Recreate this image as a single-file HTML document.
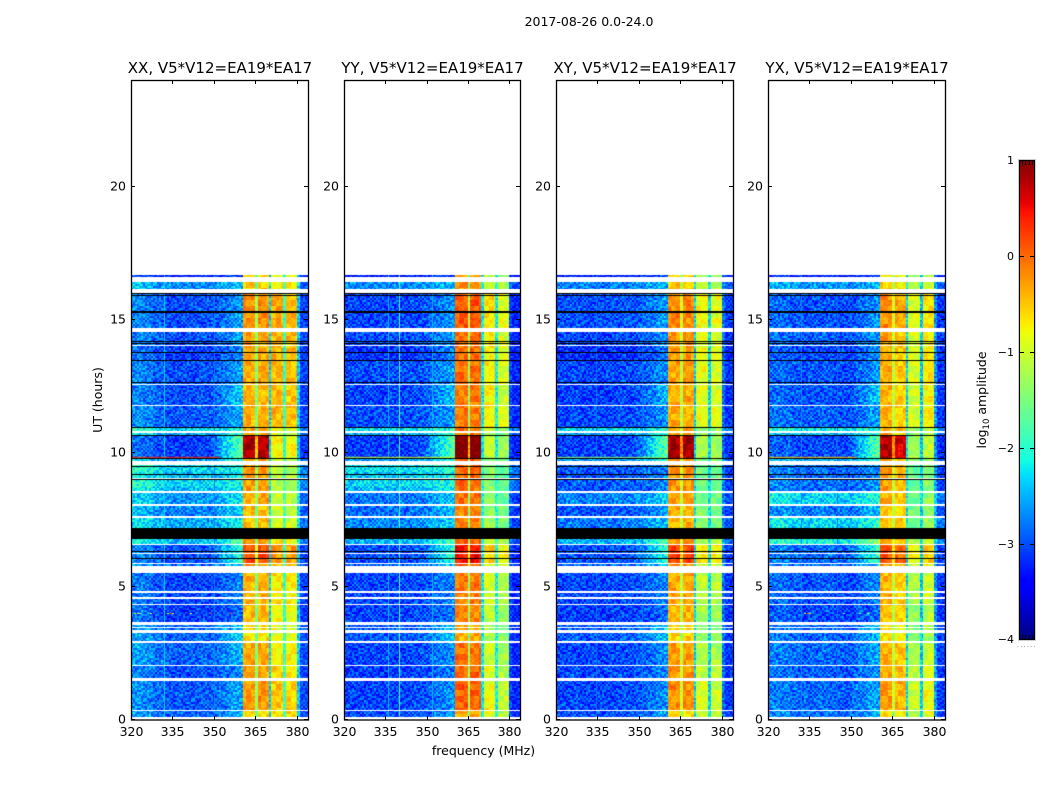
<!DOCTYPE html>
<html lang="en">
<head>
<meta charset="utf-8">
<title>2017-08-26 0.0-24.0 amplitude waterfall</title>
<style>
html,body{margin:0;padding:0;background:#fff;}
#figure{position:relative;width:1050px;height:800px;overflow:hidden;background:#fff;}
#figure canvas{position:absolute;display:block;}
#overlay{position:absolute;left:0;top:0;}
text{font-family:"DejaVu Sans","Liberation Sans",sans-serif;fill:#000;}
</style>
</head>
<body>
<div id="figure">
<svg id="overlay" width="1050" height="800" viewBox="0 0 1050 800">
  <text x="589" y="26" font-size="12.5" text-anchor="middle">2017-08-26 0.0-24.0</text>
  <text x="483.5" y="755" font-size="12.5" text-anchor="middle">frequency (MHz)</text>
  <text x="0" y="0" font-size="12.5" text-anchor="middle" transform="translate(102 400) rotate(-90)">UT (hours)</text>
  <text x="0" y="0" font-size="12.5" text-anchor="middle" transform="translate(986 400) rotate(-90)">log<tspan font-size="8.5" dy="3">10</tspan><tspan dy="-3"> amplitude</tspan></text>
  <g fill="#aaa">
    <rect x="1017.5" y="646" width="1" height="1"/><rect x="1021" y="646" width="1" height="1"/><rect x="1024" y="646" width="1" height="1"/>
    <rect x="1027.5" y="646" width="1" height="1"/><rect x="1030.5" y="646" width="1" height="1"/><rect x="1034" y="646" width="1" height="1"/>
  </g>
</svg>
</div>
<script>
// ---- panels and axis labels ----
const panelTitles = ['XX, V5*V12=EA19*EA17', 'YY, V5*V12=EA19*EA17', 'XY, V5*V12=EA19*EA17', 'YX, V5*V12=EA19*EA17'];
const freqTicks = [320, 335, 350, 365, 380];
const hourTicks = [0, 5, 10, 15, 20];
const colorbarTicks = [1, 0, -1, -2, -3, -4];
const colorbarMinorStops = [0.2, 0.4, 0.6, 0.8];

// ---- heatmap: time bands (UT hours), log10 amplitude ----
const bandStarts = [0.13,0.39,1.5,2.05,2.95,3.6,4.34,5.76,5.87,6.6,7.2,7.6,8.05,8.55,8.75,9.07,9.3,9.6,9.79,10.66,10.82,10.98,11.78,12.6,13.48,14.04,14.62,16.09,16.5];
const dataEndHour = 16.68;
const backgroundXX = [-2.9,-2.95,-3.0,-2.9,-2.9,-3.1,-3.05,-2.9,-3.0,-2.45,-2.55,-2.75,-2.65,-2.45,-2.3,-2.45,-2.3,-2.6,-3.1,-2.55,-2.3,-2.95,-3.0,-3.0,-3.1,-3.0,-3.0,-2.7,-3.3];
const backgroundYY = [-3.0,-3.05,-3.1,-3.05,-2.95,-3.05,-3.05,-2.9,-3.0,-2.5,-2.7,-2.85,-2.8,-2.45,-2.3,-2.4,-2.25,-2.6,-3.1,-2.5,-2.25,-3.0,-3.05,-3.0,-3.15,-3.0,-3.05,-2.7,-3.3];
const backgroundXY = [-3.0,-3.05,-3.05,-3.05,-2.95,-3.1,-3.05,-2.9,-3.0,-2.5,-2.8,-3.0,-2.75,-3.0,-2.95,-3.0,-2.95,-2.6,-3.1,-2.6,-2.3,-3.05,-3.1,-3.05,-3.2,-3.05,-3.0,-2.75,-3.3];
const backgroundYX = [-2.9,-2.95,-3.0,-2.95,-2.95,-3.1,-3.05,-2.9,-2.95,-2.15,-2.4,-2.85,-2.4,-2.95,-2.9,-2.95,-2.9,-2.6,-3.1,-2.55,-2.25,-3.0,-3.05,-3.05,-3.1,-3.0,-3.05,-2.7,-3.3];
const boostInnerBlocks = [-0.3,0.1,0.05,0,-0.3,-0.1,-0.05,0.1,0.5,0.1,-0.1,-0.1,0,0.05,0.05,0.1,0.1,0.05,1.15,0,0,-0.05,-0.05,0,0,0.05,0.15,-0.2,-0.3];
const boostOuterBlocks = [-0.1,0,-0.1,-0.2,-0.4,-0.3,-0.15,0,0.25,-0.2,-0.45,-0.5,-0.55,-0.65,-0.65,-0.6,-0.6,-0.5,-0.25,-0.4,-0.3,0.1,0.05,0.1,0.1,0.1,0.15,-0.2,-0.3];
const wingStrength = [0.2,0.2,0.15,0.2,0.3,0.1,0.15,0.3,0.6,0.4,0.2,0.2,0.2,0.1,0.1,0.1,0.1,0.3,0.85,0.3,0.1,0.2,0.35,0.2,0.2,0.2,0.2,0.1,0.1];

// ---- heatmap: frequency structure (MHz) ----
const segmentEdges = [320,360.4,365,366,370,370.8,375,375.9,380,381,384];
const segmentsXX = [null,-0.35,-1.4,-0.35,-2.3,-0.5,-1.9,-0.55,-2.4,-3.05];
const segmentsYY = [null,-0.05,-1.3,-0.05,-2.2,-0.8,-2.1,-1.05,-3.0,-3.2];
const segmentsXY = [null,-0.3,-1.1,-0.3,-2.3,-0.95,-2.3,-1.0,-2.8,-3.1];
const segmentsYX = [null,-0.35,-1.1,-0.5,-2.3,-1.05,-2.4,-0.8,-2.6,-3.1];
const shapeFreqStart = 320;
const shapeFreqStep = 4;
const shapeXX = [0.3,0.25,0.1,0,0,0,0.05,0,0.05,0.1];
const shapeYY = [0,0,0,0,0,0,0.05,0.05,0.1,0.1];
const shapeXY = [0,0.05,0,0,0,0.05,0.05,0.05,0.05,0.1];
const shapeYX = [0.2,0.2,0.1,0.05,0.1,0.1,0.05,0,0.05,0.1];
const wingFreqs = [349,351,353,355,357,359];
const wingGains = [0.25,0.5,0.8,1.05,1.3,1.55];
const rfiFreqsXX = [331.9,350];
const rfiLevelsXX = [-2.35,-2.75];
const rfiFreqsYY = [336,340,352];
const rfiLevelsYY = [-2.5,-1.8,-2.5];
const rfiFreqsXY = [334.5,351];
const rfiLevelsXY = [-2.8,-2.8];
const rfiFreqsYX = [331.9,345];
const rfiLevelsYX = [-2.7,-2.85];

// ---- heatmap: fine channel-to-channel grain (estimated, digit 0-9 around the band level) ----
const grainTile = [
 '372905618243960715382946','815360294871502369148075','260748153906427581039264','594132870615938204765318',
 '038675241983160749526807','746209518364725093184652','129583406752091837465320','683014972540618352907146',
 '451796023189374605281793','907342865016259481736025','236851790423806175942568','574160328957143692058314',
 '892635147068521940367281','140978256314796028513697','365204819673058412679430','718493062587234169805126'
];

// ---- flagged rows ----
const gapStarts = [0,0.32,1.445,2.03,2.88,3.27,3.44,3.55,4.32,4.52,4.77,5.53,5.84,6.22,6.55,7.56,8.02,8.53,9.05,9.58,10.78,11.76,12.55,14.02,14.55,16.03,16.42];
const gapEnds = [0.13,0.39,1.557,2.07,2.98,3.37,3.5,3.66,4.36,4.63,4.83,5.76,5.87,6.26,6.6,7.64,8.11,8.57,9.09,9.71,10.82,11.8,12.6,14.06,14.7,16.15,16.6];
const flagStarts = [15.96,15.91,15.28,14.16,14.1,13.76,13.46,12.62,10.96,10.64,9.77,9.5,9.2,8.99,6.30,6.03,6.80];
const flagEnds = [16.0,15.95,15.32,14.2,14.14,13.8,13.5,12.69,11.0,10.68,9.81,9.54,9.24,9.03,6.34,6.07,7.20];

// ---- hot rows: hour, panel index, start MHz, end MHz, level ----
const hotHours = [9.87,9.87,9.87,9.87];
const hotPanels = [0,1,2,3];
const hotStarts = [320,320,320,320];
const hotEnds = [352,360,360,352];
const hotLevels = [0.3,-1.0,-1.4,-0.5];
const spikeHour = 4.02;
const spikeFreqsXX = [321,322,323,327,333,334,335,341.3,348.6,355.8];
const spikeLevelsXX = [-0.9,-1.1,-1.2,-0.8,-1.2,0.2,-1.0,-0.8,0.2,0.1];
const spikeFreqsYX = [333,334,335,347,353,355.8];
const spikeLevelsYX = [-1.0,0,-1.1,-1.6,-1.4,-0.8];

// ---- jet colormap anchors ----
const jetRedStops = [0,0.35,0.66,0.89,1];
const jetRedValues = [0,0,1,1,0.5];
const jetGreenStops = [0,0.125,0.375,0.64,0.91,1];
const jetGreenValues = [0,0,1,1,0,0];
const jetBlueStops = [0,0.11,0.34,0.65,1];
const jetBlueValues = [0.5,1,1,0,0];

const colorMin = -4, colorMax = 1;
const panelLefts = [131, 344, 556, 768];
const panelWidths = [177, 176, 177, 177];
const plotTop = 80, plotBottom = 720;
const freqMin = 320, freqMax = 384;
const hourMin = 0, hourMax = 24;

const backgrounds = [backgroundXX, backgroundYY, backgroundXY, backgroundYX];
const segments = [segmentsXX, segmentsYY, segmentsXY, segmentsYX];
const shapes = [shapeXX, shapeYY, shapeXY, shapeYX];
const rfiFreqs = [rfiFreqsXX, rfiFreqsYY, rfiFreqsXY, rfiFreqsYX];
const rfiLevels = [rfiLevelsXX, rfiLevelsYY, rfiLevelsXY, rfiLevelsYX];

function xScale(freq, width){ return (freq - freqMin) / (freqMax - freqMin) * width; }
function yScale(hour){ return plotBottom - plotTop - (hour - hourMin) / (hourMax - hourMin) * (plotBottom - plotTop); }
function stepInterp(stops, values, t){
  for (let i = 1; i < stops.length; i++) {
    if (t <= stops[i]) {
      return values[i-1] + (values[i]-values[i-1]) * (t-stops[i-1]) / (stops[i]-stops[i-1]);
    }
  }
  return values[values.length-1];
}
const lut = [];
for (let i = 0; i < 256; i++) {
  const t = i / 255;
  lut.push('rgb(' + Math.round(255*stepInterp(jetRedStops, jetRedValues, t)) + ',' +
    Math.round(255*stepInterp(jetGreenStops, jetGreenValues, t)) + ',' +
    Math.round(255*stepInterp(jetBlueStops, jetBlueValues, t)) + ')');
}
function colorOf(v){
  const t = Math.max(0, Math.min(1, (v - colorMin) / (colorMax - colorMin)));
  return lut[Math.round(t * 255)];
}
function lookup(edges, value){
  let idx = -1;
  for (let i = 0; i < edges.length; i++) { if (value >= edges[i]) idx = i; else break; }
  return idx;
}
function grainAt(panel, col, row, cellW, cellH){
  const r = Math.floor(row / cellH), c = Math.floor(col / cellW);
  const line = grainTile[(r + panel * 3) % grainTile.length];
  const shift = Math.floor(r / grainTile.length) * 7 + panel * 5;
  return (line.charCodeAt((c + shift) % line.length) - 48 - 4.5) / 4.5;
}
function cellValue(panel, hour, freq, col, row){
  const b = lookup(bandStarts, hour);
  if (b < 0) return null;
  const seg = lookup(segmentEdges, freq);
  const bg = backgrounds[panel][b];
  const grain = grainAt(panel, col, row, 2, 2);
  const blotch = grainAt(panel, col, row, 5, 6);
  if (seg <= 0) {
    const si = Math.min(shapes[panel].length - 1, Math.floor((freq - shapeFreqStart) / shapeFreqStep));
    let v = bg + shapes[panel][si] * (1 + (bg + 3) * 0.3);
    const w = lookup(wingFreqs, freq);
    if (w >= 0) v += wingGains[w] * wingStrength[b];
    return v + grain * 0.38 + blotch * 0.1;
  }
  const base = segments[panel][seg];
  if (seg === 1 || seg === 3) return base + boostInnerBlocks[b] + grain * 0.1 + blotch * 0.2;
  if (seg === 5 || seg === 7) return base + boostOuterBlocks[b] + grain * 0.1 + blotch * 0.2;
  if (seg === 2) return base + boostInnerBlocks[b] * 0.8 + grain * 0.25;
  if (seg === 4 || seg === 6) return base + (bg + 3) * 0.3 + grain * 0.3;
  return base + (bg + 3) * 0.5 + grain * 0.3;
}

const figure = document.getElementById('figure');
const overlay = document.getElementById('overlay');
const SVGNS = 'http://www.w3.org/2000/svg';
function svgEl(tag, attrs){
  const el = document.createElementNS(SVGNS, tag);
  for (const k in attrs) el.setAttribute(k, attrs[k]);
  return el;
}

panelTitles.forEach(function(title, p){
  const left = panelLefts[p];
  const panelWidth = panelWidths[p];
  const canvas = document.createElement('canvas');
  
  
  canvas.width = panelWidth;
  canvas.height = plotBottom - plotTop;
  canvas.style.left = left + 'px';
  canvas.style.top = plotTop + 'px';
  figure.insertBefore(canvas, overlay);
  const ctx = canvas.getContext('2d');
  ctx.fillStyle = '#fff';
  ctx.fillRect(0, 0, canvas.width, canvas.height);

  const pxHour = (hourMax - hourMin) / (plotBottom - plotTop);
  const pxFreq = (freqMax - freqMin) / panelWidth;
  const rows = Math.ceil((dataEndHour - hourMin) / pxHour);
  for (let row = 0; row < rows; row++) {
    const hour = hourMin + (row + 0.5) * pxHour;
    const y = yScale(hour + pxHour / 2);
    for (let col = 0; col < panelWidth; col++) {
      const freq = freqMin + (col + 0.5) * pxFreq;
      const v = cellValue(p, hour, freq, col, row);
      if (v === null) continue;
      ctx.fillStyle = colorOf(v);
      ctx.fillRect(col, y, 1, 1);
    }
  }
  // narrow interference channels
  rfiFreqs[p].forEach(function(f, i){
    ctx.fillStyle = colorOf(rfiLevels[p][i]);
    ctx.fillRect(Math.round(xScale(f, panelWidth)), yScale(dataEndHour), 1, yScale(0.13) - yScale(dataEndHour));
  });
  // hot rows
  hotHours.forEach(function(h, i){
    if (hotPanels[i] !== p) return;
    ctx.fillStyle = colorOf(hotLevels[i]);
    ctx.fillRect(xScale(hotStarts[i], panelWidth), yScale(h), xScale(hotEnds[i], panelWidth) - xScale(hotStarts[i], panelWidth), 1);
  });
  const spikeF = p === 0 ? spikeFreqsXX : (p === 3 ? spikeFreqsYX : []);
  const spikeL = p === 0 ? spikeLevelsXX : spikeLevelsYX;
  spikeF.forEach(function(f, i){
    ctx.fillStyle = colorOf(spikeL[i]);
    ctx.fillRect(Math.round(xScale(f, panelWidth)), Math.round(yScale(spikeHour)), 2, 1);
  });
  // flagged rows: white = no data, black = zero amplitude
  ctx.fillStyle = '#fff';
  gapStarts.forEach(function(s, i){
    const y0 = Math.round(yScale(gapEnds[i])), y1 = Math.round(yScale(s));
    ctx.fillRect(0, y0, panelWidth, Math.max(1, y1 - y0));
  });
  ctx.fillStyle = '#000';
  flagStarts.forEach(function(s, i){
    const y0 = Math.round(yScale(flagEnds[i])), y1 = Math.round(yScale(s));
    ctx.fillRect(0, y0, panelWidth, Math.max(1, y1 - y0));
  });

  // axes
  const group = svgEl('g', {});
  
  
  overlay.appendChild(group);
  const frame = svgEl('rect', {x: left + 0.5, y: plotTop + 0.5, width: panelWidth, height: plotBottom - plotTop - 0.5, fill: 'none', stroke: '#000', 'stroke-width': 1.3});
  
  
  group.appendChild(frame);
  const titleEl = svgEl('text', {x: left + panelWidth / 2 + 0.5, y: 73, 'font-size': 15, 'text-anchor': 'middle'});
  
  
  titleEl.textContent = title;
  group.appendChild(titleEl);

  freqTicks.forEach(function(f){
    const x = Math.round(left + xScale(f, panelWidth)) + 0.5;
    const tickBottom = svgEl('line', {x1: x, x2: x, y1: plotBottom, y2: plotBottom - 4, stroke: '#000'});
    
    
    group.appendChild(tickBottom);
    const tickTop = svgEl('line', {x1: x, x2: x, y1: plotTop, y2: plotTop + 4, stroke: '#000'});
    
    
    group.appendChild(tickTop);
    const label = svgEl('text', {x: x, y: plotBottom + 16, 'font-size': 12.5, 'text-anchor': 'middle'});
    
    
    label.textContent = String(f);
    group.appendChild(label);
  });
  hourTicks.forEach(function(h){
    const y = Math.round(plotTop + yScale(h)) - 0.5;
    const tickLeft = svgEl('line', {x1: left, x2: left + 4, y1: y, y2: y, stroke: '#000'});
    
    
    group.appendChild(tickLeft);
    const tickRight = svgEl('line', {x1: left + panelWidth, x2: left + panelWidth - 4, y1: y, y2: y, stroke: '#000'});
    
    
    group.appendChild(tickRight);
    const label = svgEl('text', {x: left - 5, y: y + 4, 'font-size': 12.5, 'text-anchor': 'end'});
    
    
    label.textContent = String(h);
    group.appendChild(label);
  });
});

// colorbar
const cbLeft = 1019, cbWidth = 16, cbTop = 160, cbBottom = 640;
function cbScale(v){ return cbTop + (colorMax - v) / (colorMax - colorMin) * (cbBottom - cbTop); }
const cbCanvas = document.createElement('canvas');


cbCanvas.width = cbWidth;
cbCanvas.height = cbBottom - cbTop;
cbCanvas.style.left = cbLeft + 'px';
cbCanvas.style.top = cbTop + 'px';
figure.insertBefore(cbCanvas, overlay);
const cbCtx = cbCanvas.getContext('2d');
for (let y = 0; y < cbCanvas.height; y++) {
  cbCtx.fillStyle = colorOf(colorMax - (y + 0.5) / cbCanvas.height * (colorMax - colorMin));
  cbCtx.fillRect(0, y, cbWidth, 1);
}
const cbFrame = svgEl('rect', {x: cbLeft + 0.5, y: cbTop + 0.5, width: cbWidth - 1, height: cbBottom - cbTop - 1, fill: 'none', stroke: '#000'});


overlay.appendChild(cbFrame);
const cbHalo = svgEl('rect', {x: cbLeft - 0.5, y: cbTop - 0.5, width: cbWidth + 1, height: cbBottom - cbTop + 1, fill: 'none', stroke: '#ccc'});


overlay.appendChild(cbHalo);
colorbarTicks.forEach(function(v){
  const y = Math.min(cbBottom - 0.5, Math.round(cbScale(v)) + 0.5);
  const label = svgEl('text', {x: cbLeft - 5, y: y + 3.5, 'font-size': 11, 'text-anchor': 'end'});
  
  
  label.textContent = v < 0 ? '\u2212' + Math.abs(v) : String(v);
  overlay.appendChild(label);
  const tickL = svgEl('line', {x1: cbLeft, x2: cbLeft + 5, y1: y, y2: y, stroke: '#000'});
  
  
  overlay.appendChild(tickL);
  const tickR = svgEl('line', {x1: cbLeft + cbWidth - 5, x2: cbLeft + cbWidth, y1: y, y2: y, stroke: '#000'});
  
  
  overlay.appendChild(tickR);
});
colorbarMinorStops.forEach(function(s){
  const x = Math.round(cbLeft + s * cbWidth) + 0.5;
  const topTick = svgEl('line', {x1: x, x2: x, y1: cbTop, y2: cbTop + 5, stroke: '#000'});
  
  
  overlay.appendChild(topTick);
  const bottomTick = svgEl('line', {x1: x, x2: x, y1: cbBottom - 5, y2: cbBottom, stroke: '#000'});
  
  
  overlay.appendChild(bottomTick);
});
</script>
</body>
</html>
